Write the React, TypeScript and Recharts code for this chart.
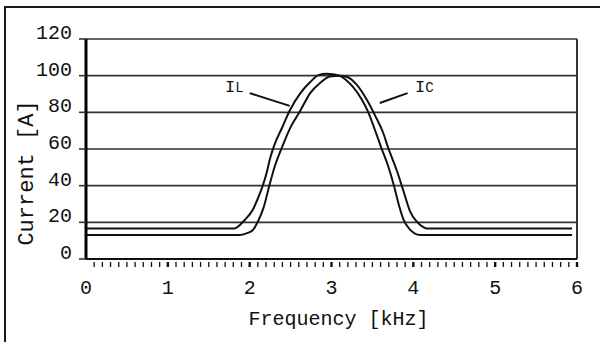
import * as React from "react"
import {
  LineChart,
  Line,
  XAxis,
  YAxis,
  CartesianGrid,
  ReferenceLine,
  ReferenceDot,
  Label,
} from "recharts"

// values
const ilFreq = [0, 1.81, 1.94, 2.04, 2.1, 2.16, 2.21, 2.25, 2.3, 2.4, 2.49, 2.62, 2.74, 2.84, 2.94, 3.1, 3.18, 3.26, 3.37, 3.45, 3.53, 3.61, 3.69, 3.76, 3.82, 3.88, 3.96, 4.08, 5.94]
const ilCurrent = [16.7, 16.7, 21.3, 27, 33, 40, 47.5, 55, 62, 72, 81, 90.5, 96.5, 100.3, 101, 100, 97.5, 94, 87, 80, 70.5, 60.5, 51, 40.5, 30, 21.5, 16, 13.1, 13.1]

const icFreq = [0, 1.88, 1.96, 2.04, 2.1, 2.17, 2.24, 2.31, 2.4, 2.49, 2.62, 2.74, 2.86, 2.98, 3.1, 3.19, 3.31, 3.43, 3.53, 3.63, 3.69, 3.8, 3.88, 3.96, 4.04, 4.1, 4.16, 5.94]
const icCurrent = [13.1, 13.1, 14, 15.8, 20.4, 28, 40, 51, 61.5, 71, 81, 90.5, 96, 99.5, 100, 99.3, 95, 87, 78.5, 69, 61, 48, 37, 26, 20.5, 18, 16.7, 16.7]

const yTicks = [0, 20, 40, 60, 80, 100, 120]
const xLabels = [0, 1, 2, 3, 4, 5, 6]
const minorTicks = Array.from({ length: 61 }, (_, i) => i / 10)

const ilData = ilFreq.map((f, i) => ({ f, v: ilCurrent[i] }))
const icData = icFreq.map((f, i) => ({ f, v: icCurrent[i] }))

const FONT = "'Liberation Mono', 'Courier New', monospace"

const XTick = (props: any) => {
  const { x, y, payload } = props
  const v = payload.value
  const major = xLabels.some((l) => Math.abs(l - v) < 1e-6)
  return (
    <g>
      {v > 0.01 && (
        <line x1={x} x2={x} y1={y + 3} y2={y + 8} stroke="#111" strokeWidth={major ? 2.4 : 1.3} />
      )}
      {major && (
        <text x={x} y={y + 35} textAnchor="middle" fontFamily={FONT} fontSize={20} fill="#111">
          {Math.round(v)}
        </text>
      )}
    </g>
  )
}

const YTick = (props: any) => {
  const { x, y, payload } = props
  return (
    <text x={x} y={y} textAnchor="end" fontFamily={FONT} fontSize={20} fill="#111">
      {payload.value}
    </text>
  )
}

const seriesLabel = (main: string, sub: string) => (props: any) => {
  const vb = props.viewBox || {}
  return (
    <text x={vb.x} y={vb.y} fontFamily={FONT} fontSize={17} fill="#111">
      {main}
      <tspan fontSize={14}>{sub}</tspan>
    </text>
  )
}

export default function App() {
  return (
    <div style={{ position: "fixed", left: 0, top: 0, width: 600, height: 342, background: "#fff", overflow: "hidden" }}>
      <div
        style={{
          position: "absolute",
          left: 4,
          top: 6,
          width: 700,
          height: 500,
          border: "2px solid #1a1a1a",
        }}
      />
      <div style={{ position: "absolute", left: 0, top: 0 }}>
        <LineChart width={600} height={342} margin={{ top: 39, right: 23, left: 26, bottom: 0 }}>
          <CartesianGrid horizontal vertical={false} stroke="#333" strokeWidth={1.6} />
          <XAxis
            dataKey="f"
            type="number"
            domain={[0, 6]}
            ticks={minorTicks}
            interval={0}
            height={83}
            tickLine={false}
            tickSize={0}
            tickMargin={0}
            tick={<XTick />}
            axisLine={{ stroke: "#111", strokeWidth: 2 }}
            allowDataOverflow
          >
            <Label
              content={(p: any) => {
                const vb = p.viewBox
                return (
                  <text x={vb.x + vb.width / 2 + 7} y={vb.y + 66} textAnchor="middle" fontFamily={FONT} fontSize={20} fill="#111">
                    Frequency [kHz]
                  </text>
                )
              }}
            />
          </XAxis>
          <YAxis
            type="number"
            domain={[0, 120]}
            ticks={yTicks}
            interval={0}
            width={60}
            tickSize={7}
            tickMargin={7}
            tickLine={{ stroke: "#333", strokeWidth: 1.6 }}
            tick={<YTick />}
            axisLine={{ stroke: "#000", strokeWidth: 3 }}
          >
            <Label
              content={(p: any) => {
                const vb = p.viewBox
                const cx = vb.x + 1
                const cy = vb.y + vb.height / 2 + 24
                return (
                  <text
                    x={cx}
                    y={cy}
                    transform={`rotate(-90, ${cx}, ${cy})`}
                    textAnchor="middle"
                    dominantBaseline="central"
                    fontFamily={FONT}
                    fontSize={22}
                    fill="#111"
                  >
                    Current [A]
                  </text>
                )
              }}
            />
          </YAxis>
          <ReferenceLine x={6} stroke="#333" strokeWidth={2} />
          <ReferenceLine segment={[{ x: 2.0, y: 90.5 }, { x: 2.49, y: 83.5 }]} stroke="#111" strokeWidth={2} />
          <ReferenceLine segment={[{ x: 3.59, y: 85.1 }, { x: 3.93, y: 90.5 }]} stroke="#111" strokeWidth={2} />
          <ReferenceDot x={1.7} y={91} r={0} fill="none" stroke="none" label={seriesLabel("I", "L")} />
          <ReferenceDot x={4.02} y={91} r={0} fill="none" stroke="none" label={seriesLabel("I", "C")} />
          <Line data={ilData} dataKey="v" type="monotone" stroke="#111" strokeWidth={2} dot={false} isAnimationActive={false} />
          <Line data={icData} dataKey="v" type="monotone" stroke="#111" strokeWidth={2} dot={false} isAnimationActive={false} />
        </LineChart>
      </div>
    </div>
  )
}
